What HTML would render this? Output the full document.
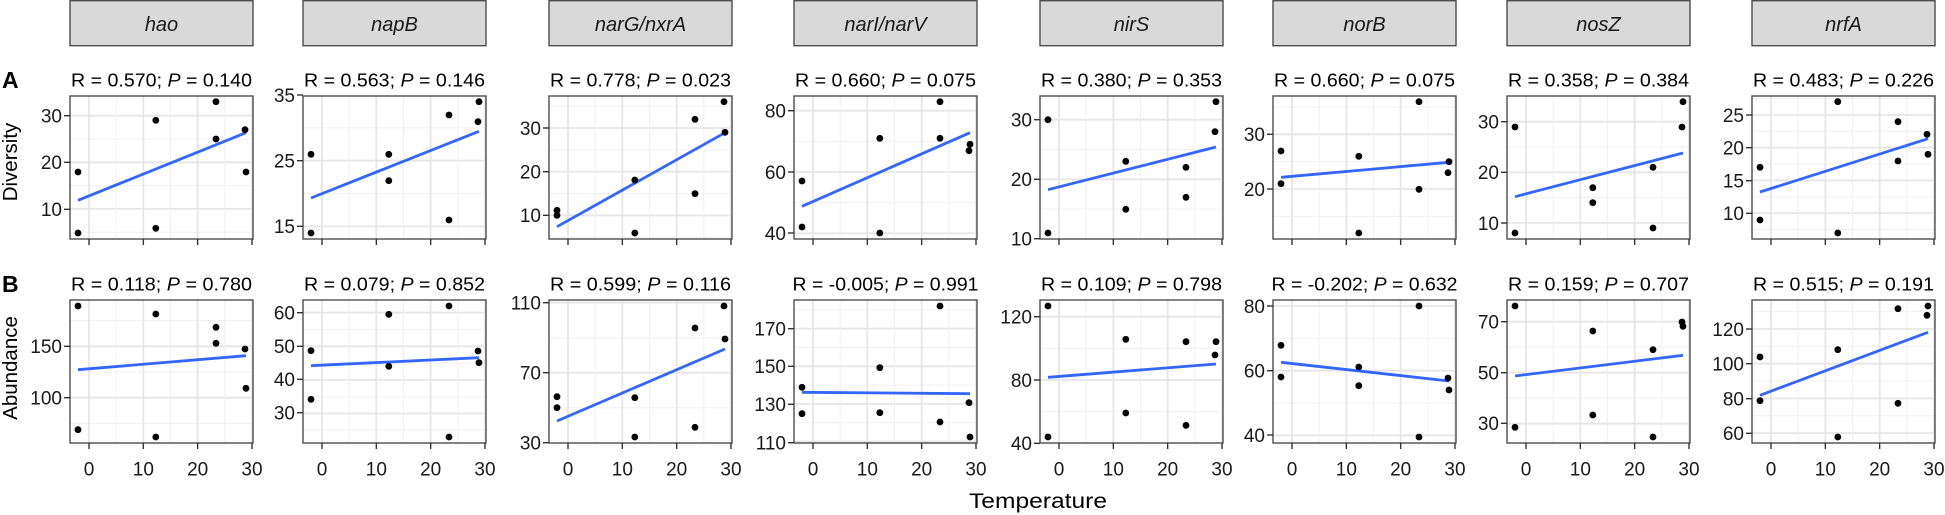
<!DOCTYPE html>
<html><head><meta charset="utf-8"><style>
html,body{margin:0;padding:0;background:#fff;}
svg{display:block;font-family:"Liberation Sans",Arial,sans-serif;}
</style></head><body>
<svg id="s" width="1945" height="515" xmlns="http://www.w3.org/2000/svg"></svg>
<script>
var P=[
{n:"hao",l:70,
 A:{t:"R = 0.570; ",p:"0.140",ticks:[[30,19.7],[20,66.3],[10,113.3]],pts:[[8,137],[8,76],[85.8,24.3],[85.8,132.3],[146,5.7],[146,43],[175,33.7],[176,76]],ln:[104.3,36.7]},
 B:{t:"R = 0.118; ",p:"0.780",ticks:[[150,46.3],[100,97.7]],pts:[[8,6],[8,129.7],[85.8,14],[85.8,137],[146,27.3],[146,43.3],[175,49],[176,88.3]],ln:[69.7,55.7]}},
{n:"napB",l:303,
 A:{t:"R = 0.563; ",p:"0.146",ticks:[[35,-1],[25,64.7],[15,130.3]],pts:[[8,58.3],[8,137],[85.8,58.3],[85.8,84.7],[146,19],[146,124],[175,25.7],[176,5.7]],ln:[102,35.3]},
 B:{t:"R = 0.079; ",p:"0.852",ticks:[[60,12.7],[50,46.3],[40,79.3],[30,112.7]],pts:[[8,50.7],[8,99.3],[85.8,14.3],[85.8,66.3],[146,6],[146,137],[175,51],[176,62.7]],ln:[65.7,57.7]}},
{n:"narG/nxrA",l:549,
 A:{t:"R = 0.778; ",p:"0.023",ticks:[[30,32],[20,75.7],[10,119.3]],pts:[[8,114.3],[8,119.3],[85.8,84],[85.8,137],[146,23.3],[146,97.7],[175,5.7],[176,36.3]],ln:[130.7,36.7]},
 B:{t:"R = 0.599; ",p:"0.116",ticks:[[110,2.7],[70,72.7],[30,142.7]],pts:[[8,96.7],[8,107.7],[85.8,97.7],[85.8,137],[146,28],[146,127.3],[175,6],[176,39]],ln:[121,49]}},
{n:"narI/narV",l:794,
 A:{t:"R = 0.660; ",p:"0.075",ticks:[[80,14.7],[60,76],[40,137]],pts:[[8,85],[8,131],[85.8,42.3],[85.8,137],[146,5.7],[146,42.3],[176,48.3],[175,54.7]],ln:[110.3,36.7]},
 B:{t:"R = -0.005; ",p:"0.991",ticks:[[170,28.7],[150,66.3],[130,104.3],[110,142.7]],pts:[[8,87.3],[8,113.7],[85.8,67.7],[85.8,112.7],[146,6],[146,122],[175,102.7],[176,137]],ln:[92.3,93.7]}},
{n:"nirS",l:1040,
 A:{t:"R = 0.380; ",p:"0.353",ticks:[[30,23.7],[20,83.3],[10,142.7]],pts:[[8,23.7],[8,137],[85.8,65.3],[85.8,113.3],[146,71.3],[146,101.3],[175,35.7],[176,5.7]],ln:[93.7,51]},
 B:{t:"R = 0.109; ",p:"0.798",ticks:[[120,16.7],[80,80],[40,143.3]],pts:[[8,6],[8,137],[85.8,39.3],[85.8,113],[146,41.7],[146,125.3],[175,55],[176,41.7]],ln:[77.3,64]}},
{n:"norB",l:1273,
 A:{t:"R = 0.660; ",p:"0.075",ticks:[[30,38.3],[20,93]],pts:[[8,55],[8,87.7],[85.8,60.3],[85.8,137],[146,5.7],[146,93.3],[175,76.7],[176,65.7]],ln:[81.3,66.3]},
 B:{t:"R = -0.202; ",p:"0.632",ticks:[[80,6],[60,70.7],[40,135]],pts:[[8,45.3],[8,77],[85.8,67],[85.8,85.7],[146,6],[146,137],[175,78],[176,90]],ln:[62.3,81]}},
{n:"nosZ",l:1507,
 A:{t:"R = 0.358; ",p:"0.384",ticks:[[30,25.7],[20,76.3],[10,127]],pts:[[8,31],[8,137],[85.8,91.7],[85.8,106.7],[146,71.3],[146,132],[175,31],[176,5.7]],ln:[100.7,57]},
 B:{t:"R = 0.159; ",p:"0.707",ticks:[[70,21.7],[50,72.7],[30,123.3]],pts:[[8,6],[8,127.3],[85.8,31],[85.8,115],[146,49.7],[146,137],[175,22],[176,26.3]],ln:[76,55.3]}},
{n:"nrfA",l:1752,
 A:{t:"R = 0.483; ",p:"0.226",ticks:[[25,19],[20,51.7],[15,84.7],[10,117.3]],pts:[[8,71.3],[8,124],[85.8,5.7],[85.8,137],[146,25.7],[146,65],[175,38.3],[176,58.3]],ln:[96,42.7]},
 B:{t:"R = 0.515; ",p:"0.191",ticks:[[120,29],[100,63.7],[80,98.7],[60,133.3]],pts:[[8,57],[8,100.7],[85.8,49.7],[85.8,137],[146,8.7],[146,103.3],[175,15.3],[176,6]],ln:[95.3,32.3]}}
];
var W=183,H=143,out=[];
function panel(l,top,d,xlab){
  var r=l+W,b=top+H;
  out.push('<rect x="'+l+'" y="'+top+'" width="'+W+'" height="'+H+'" fill="#fff"/>');
  var t=d.ticks,sp=(t[1][1]-t[0][1]);
  var start=t[0][1]-sp*4;
  for(var k=0;k<24;k++){var y=start+sp*k/2; if(y<0.5||y>H-0.5)continue;
    var major=(k%2==0);
    out.push('<line x1="'+l+'" x2="'+r+'" y1="'+(top+y)+'" y2="'+(top+y)+'" stroke="'+(major?"#e6e6e6":"#f0f0f0")+'" stroke-width="'+(major?1.8:1)+'"/>');}
  for(var v=-5;v<=30;v+=5){var x=l+19+5.433*v; if(x<l||x>r)continue;var major=(v%10==0);
    out.push('<line y1="'+top+'" y2="'+b+'" x1="'+x+'" x2="'+x+'" stroke="'+(major?"#e6e6e6":"#f0f0f0")+'" stroke-width="'+(major?1.8:1)+'"/>');}
  out.push('<line x1="'+(l+8)+'" y1="'+(top+d.ln[0])+'" x2="'+(l+176)+'" y2="'+(top+d.ln[1])+'" stroke="#3366FF" stroke-width="2.8"/>');
  d.pts.forEach(function(p){out.push('<circle cx="'+(l+p[0])+'" cy="'+(top+p[1])+'" r="3.4" fill="#000"/>');});
  out.push('<rect x="'+l+'" y="'+top+'" width="'+W+'" height="'+H+'" fill="none" stroke="#4d4d4d" stroke-width="1.4"/>');
  t.forEach(function(tk){var y=top+tk[1];
    out.push('<line x1="'+(l-6)+'" x2="'+l+'" y1="'+y+'" y2="'+y+'" stroke="#333" stroke-width="1.4"/>');
    out.push('<text x="'+(l-8)+'" y="'+(y+6.8)+'" font-size="19" fill="#1a1a1a" text-anchor="end">'+tk[0]+'</text>');});
  [0,10,20,30].forEach(function(v){var x=l+19+5.433*v;
    out.push('<line x1="'+x+'" x2="'+x+'" y1="'+b+'" y2="'+(b+6)+'" stroke="#333" stroke-width="1.4"/>');
    if(xlab)out.push('<text x="'+x+'" y="475.5" font-size="19" fill="#1a1a1a" text-anchor="middle">'+v+'</text>');});
  out.push('<text x="'+(l+W/2)+'" y="'+(top-9.5)+'" font-size="18.5" fill="#000" text-anchor="middle" textLength="'+(d.t.length>11?186:181)+'" lengthAdjust="spacingAndGlyphs">'+d.t+'<tspan font-style="italic">P</tspan> = '+d.p+'</text>');
}
P.forEach(function(p){
  out.push('<rect x="'+p.l+'" y="0.7" width="'+W+'" height="45" fill="#d9d9d9" stroke="#4d4d4d" stroke-width="1.4"/>');
  out.push('<text x="'+(p.l+W/2)+'" y="31" font-size="20" font-style="italic" fill="#1a1a1a" text-anchor="middle">'+p.n+'</text>');
  panel(p.l,96,p.A,false);
  panel(p.l,300,p.B,true);
});
out.push('<text x="2" y="88" font-size="23" font-weight="bold">A</text>');
out.push('<text x="2" y="292" font-size="23" font-weight="bold">B</text>');
out.push('<text transform="translate(17,162) rotate(-90)" font-size="20.5" fill="#000" text-anchor="middle">Diversity</text>');
out.push('<text transform="translate(17,368) rotate(-90)" font-size="20.5" fill="#000" text-anchor="middle">Abundance</text>');
out.push('<text x="969" y="508" font-size="21" fill="#000" textLength="138" lengthAdjust="spacingAndGlyphs">Temperature</text>');
document.getElementById('s').innerHTML=out.join('');
</script>
</body></html>
